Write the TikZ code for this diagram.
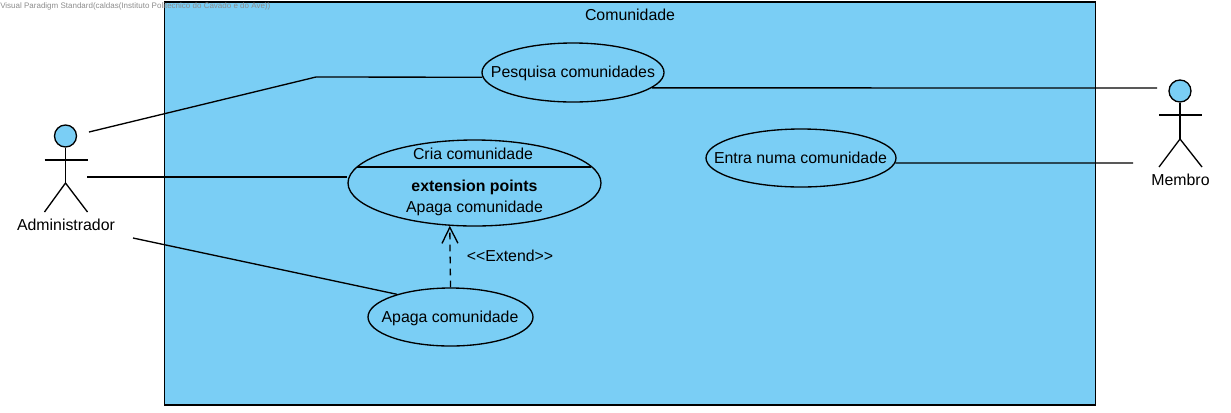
\documentclass[tikz,border=0pt]{standalone}
\usepackage{fontspec}
\setmainfont{Liberation Sans}
\usetikzlibrary{arrows.meta, shapes.geometric}
\definecolor{ucblue}{HTML}{7ACEF5}
\tikzset{
    ucbox/.style={draw, fill=ucblue, line width=1pt},
    usecase/.style={draw, fill=ucblue, ellipse, inner sep=0pt, line width=1pt},
    actorhead/.style={draw, fill=ucblue, circle, inner sep=0pt, minimum size=16.5pt, line width=1pt},
    actorline/.style={line width=1pt},
    assoc/.style={line width=1pt},
    extendline/.style={line width=1pt, dash pattern=on 5pt off 4pt, -{Straight Barb[length=12pt,width=12pt,line width=1pt]}},
    label/.style={inner sep=0pt, font=\fontsize{11.9pt}{14pt}\selectfont},
    stamp/.style={inner sep=0pt, anchor=west, text=black!45, font=\fontsize{6pt}{7pt}\selectfont}
}
\begin{document}
\begin{tikzpicture}[x=0.75pt, y=-0.75pt]
    \useasboundingbox (0,0) rectangle (1231,412);
    % system box
    \node[ucbox, rectangle, inner sep=0pt, minimum width=698.25pt, minimum height=302.25pt] (sistema) at (630,203.5) {};
    \node[label] (titulo) at (630,15) {Comunidade};
    \node[stamp] (marca) at (0,6) {Visual Paradigm Standard(caldas(Instituto Politecnico do Cavado e do Ave))};
    % use cases
    \node[usecase, minimum width=136.5pt, minimum height=44.25pt] (pesquisa) at (573,72.5) {};
    \node[label] (pesquisaT) at (573,73.5) {Pesquisa comunidades};
    \node[usecase, minimum width=189.75pt, minimum height=64.5pt] (cria) at (474.5,183) {};
    \node[label] (criaT) at (473,154) {Cria comunidade};
    \node[label] (criaE) at (474.5,187.5) {\bfseries extension points};
    \node[label] (criaP) at (474.5,208) {Apaga comunidade};
    \coordinate (criaL) at (357,167);
    \coordinate (criaR) at (591,167);
    \draw[actorline] (criaL) -- (criaR);
    \node[usecase, minimum width=142.5pt, minimum height=43.5pt] (entra) at (801,158) {};
    \node[label] (entraT) at (800.5,158) {Entra numa comunidade};
    \node[usecase, minimum width=123.75pt, minimum height=43.5pt] (apaga) at (450.5,317) {};
    \node[label] (apagaT) at (450,318.5) {Apaga comunidade};
    % Administrador
    \node[actorhead] (adminH) at (65.5,136) {};
    \coordinate (adminB) at (65.5,183);
    \coordinate (adminAL) at (44.5,160);
    \coordinate (adminAR) at (87.5,160);
    \coordinate (adminPL) at (44.5,212);
    \coordinate (adminPR) at (87.5,212);
    \draw[actorline] (adminH) -- (adminB);
    \draw[actorline] (adminAL) -- (adminAR);
    \draw[actorline] (adminPL) -- (adminB) -- (adminPR);
    \node[label] (admin) at (66,225) {Administrador};
    % Membro
    \node[actorhead] (membroH) at (1180,91) {};
    \coordinate (membroB) at (1180,139);
    \coordinate (membroAL) at (1159,115);
    \coordinate (membroAR) at (1202,115);
    \coordinate (membroPL) at (1159,167);
    \coordinate (membroPR) at (1202,167);
    \draw[actorline] (membroH) -- (membroB);
    \draw[actorline] (membroAL) -- (membroAR);
    \draw[actorline] (membroPL) -- (membroB) -- (membroPR);
    \node[label] (membro) at (1180.5,180) {Membro};
    % connectors
    \coordinate (a1) at (89,132);
    \coordinate (a1k) at (316,77);
    \coordinate (a2) at (87,177);
    \coordinate (a3) at (133,238);
    \coordinate (m1) at (1157,88);
    \coordinate (m2) at (1133,163);
    \draw[assoc] (a1) -- (a1k) -- (pesquisa.183);
    \draw[assoc] (a2) -- (cria.west |- a2);
    \draw[assoc] (a3) -- (apaga.157);
    \draw[assoc] (pesquisa.-11.7) -- (m1);
    \draw[assoc] (entra.-3.1) -- (m2);
    \draw[extendline] (apaga.north) -- (cria.240);
    \node[label] (extend) at (510,255.5) {<{}<Extend>{}>};
\end{tikzpicture}
\end{document}
